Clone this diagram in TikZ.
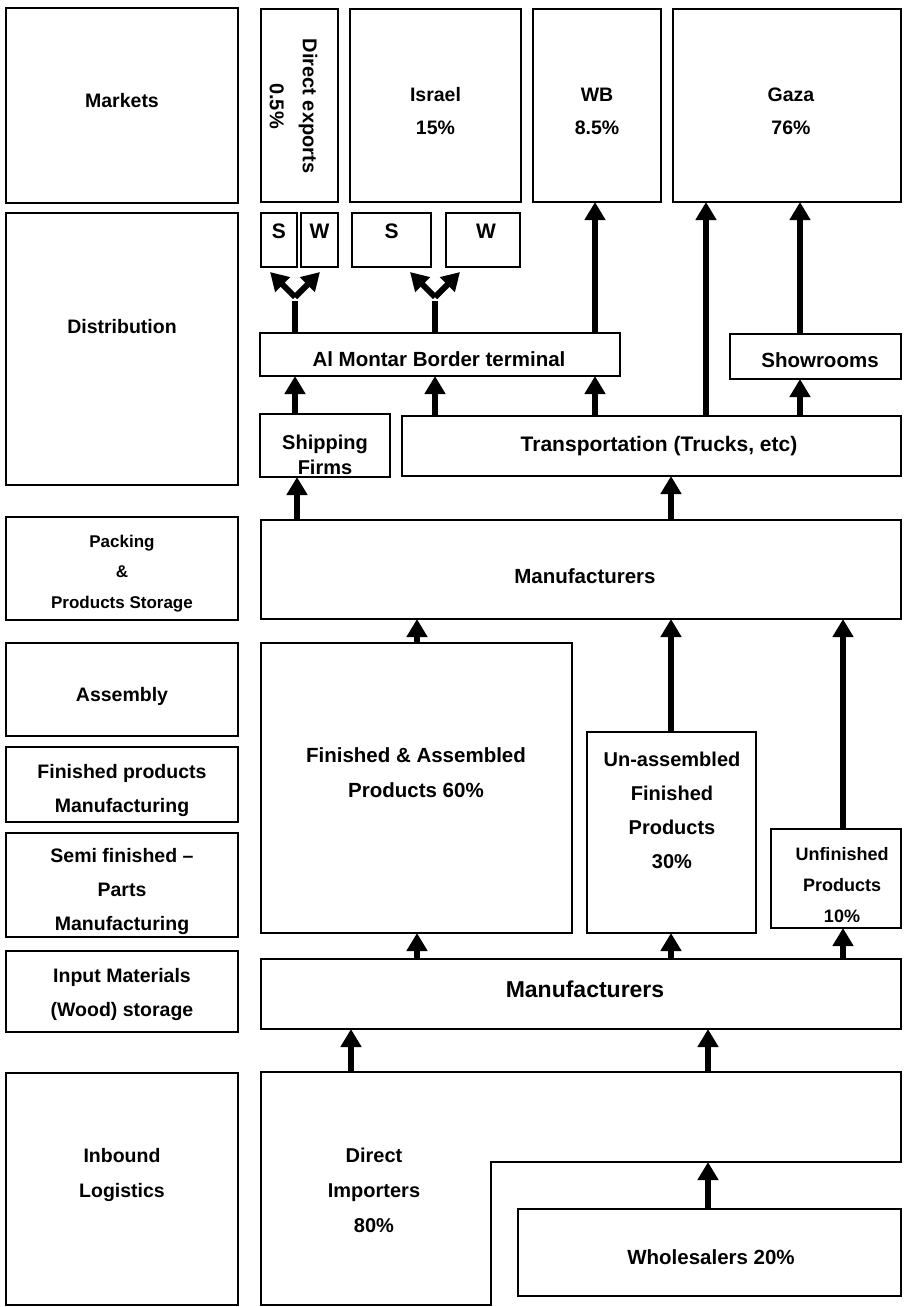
\documentclass[tikz,border=0pt]{standalone}
\usepackage{fontspec}
\setmainfont{Liberation Sans}
\usetikzlibrary{arrows.meta}
\begin{document}
\begin{tikzpicture}[x=1pt,y=-1pt]
\tikzset{
  fz/.style 2 args={font=\bfseries\fontsize{#1}{#2}\selectfont},
  box/.style={draw, line width=1.6pt, inner sep=0pt, outer sep=0pt, rectangle},
  txt/.style={align=center, inner sep=0pt, fz={19.5}{34}},
  arr/.style={line width=6pt, -{Triangle[width=20pt,length=18pt]}},
  stem/.style={line width=6pt},
}
\useasboundingbox (0,0) rectangle (903,1307);
\fill[white] (0,0) rectangle (903,1307);

% ---------- left column ----------
\node[box, minimum width=232pt, minimum height=195pt] (markets) at (122,105.5) {};
\node[txt] (marketsT) at (122,101) {Markets};
\node[box, minimum width=232pt, minimum height=272pt] (dist) at (122,349) {};
\node[txt] (distT) at (122,327) {Distribution};
\node[box, minimum width=232pt, minimum height=103pt] (pack) at (122,568.5) {};
\node[txt, fz={17}{30.5}] (packT) at (122,573.5) {Packing\\\&\\Products Storage};
\node[box, minimum width=232pt, minimum height=93pt] (assem) at (122,689.5) {};
\node[txt] (assemT) at (122,696) {Assembly};
\node[box, minimum width=232pt, minimum height=75pt] (finprod) at (122,784.5) {};
\node[txt] (finprodT) at (122,790) {Finished products\\Manufacturing};
\node[box, minimum width=232pt, minimum height=104pt] (semi) at (122,885) {};
\node[txt] (semiT) at (122,891) {Semi finished --\\Parts\\Manufacturing};
\node[box, minimum width=232pt, minimum height=81pt] (inmat) at (122,991.5) {};
\node[txt] (inmatT) at (122,994) {Input Materials\\(Wood) storage};
\node[box, minimum width=232pt, minimum height=232pt] (inb) at (122,1189) {};
\node[txt, fz={19.5}{35}] (inbT) at (122,1174.5) {Inbound\\Logistics};

% ---------- markets ----------
\node[box, minimum width=77pt, minimum height=193pt] (dexp) at (299.5,105.5) {};
\node[txt, fz={20}{33}, rotate=-90] (dexpT) at (293.5,106) {Direct exports\\0.5\%};
\node[box, minimum width=171pt, minimum height=193pt] (israel) at (435.5,105.5) {};
\node[txt, fz={19.5}{33}] (israelT) at (435.5,111) {Israel\\15\%};
\node[box, minimum width=128pt, minimum height=193pt] (wb) at (597,105.5) {};
\node[txt, fz={19.5}{33}] (wbT) at (597,111) {WB\\8.5\%};
\node[box, minimum width=228pt, minimum height=193pt] (gaza) at (787,105.5) {};
\node[txt, fz={19.5}{33}] (gazaT) at (791,111) {Gaza\\76\%};

% ---------- distribution ----------
\node[box, minimum width=36pt, minimum height=54pt] (s1) at (279,240) {};
\node[txt, fz={21}{25}] (s1T) at (279,231) {S};
\node[box, minimum width=37pt, minimum height=54pt] (w1) at (319.5,240) {};
\node[txt, fz={21}{25}] (w1T) at (319.5,231) {W};
\node[box, minimum width=79pt, minimum height=54pt] (s2) at (391.5,240) {};
\node[txt, fz={21}{25}] (s2T) at (391.5,231) {S};
\node[box, minimum width=74pt, minimum height=54pt] (w2) at (483,240) {};
\node[txt, fz={21}{25}] (w2T) at (486,231) {W};

\node[box, minimum width=360pt, minimum height=43pt] (montar) at (440,354.5) {};
\node[txt, fz={20.5}{25}] (montarT) at (439,359) {Al Montar Border terminal};
\node[box, minimum width=171pt, minimum height=45pt] (show) at (815.5,356.5) {};
\node[txt, fz={20.5}{25}] (showT) at (820,360) {Showrooms};
\node[box, minimum width=130pt, minimum height=63pt] (ship) at (325,445.5) {};
\node[txt, fz={20}{25}] (shipT) at (325,455) {Shipping\\Firms};
\node[box, minimum width=499pt, minimum height=60pt] (trans) at (651.5,446) {};
\node[txt, fz={21}{25}] (transT) at (659,446) {Transportation (Trucks, etc)};

% ---------- manufacturing ----------
\node[box, minimum width=640pt, minimum height=99pt] (man1) at (581,569.5) {};
\node[txt, fz={20.5}{25}] (man1T) at (585,576) {Manufacturers};
\node[box, minimum width=311pt, minimum height=290pt] (fa) at (416.5,788) {};
\node[txt, fz={20.5}{35}] (faT) at (416,773) {Finished \& Assembled\\Products 60\%};
\node[box, minimum width=169pt, minimum height=201pt] (ua) at (671.5,832.5) {};
\node[txt, fz={20}{34}] (uaT) at (672,810) {Un-assembled\\Finished\\Products\\30\%};
\node[box, minimum width=130pt, minimum height=99pt] (uf) at (836,878.5) {};
\node[txt, fz={18}{31}] (ufT) at (842,885) {Unfinished\\Products\\10\%};
\node[box, minimum width=640pt, minimum height=70pt] (man2) at (581,994) {};
\node[txt, fz={23}{28}] (man2T) at (585,989) {Manufacturers};

% ---------- inbound ----------
\coordinate (imp1) at (261,1072);
\coordinate (imp2) at (901,1072);
\coordinate (imp3) at (901,1162);
\coordinate (imp4) at (491,1162);
\coordinate (imp5) at (491,1305);
\coordinate (imp6) at (261,1305);
\draw[line width=1.6pt] (imp1) -- (imp2) -- (imp3) -- (imp4) -- (imp5) -- (imp6) -- cycle;
\node[txt, fz={20}{35}] (impT) at (374,1190) {Direct\\Importers\\80\%};
\node[box, minimum width=383pt, minimum height=87pt] (whole) at (709.5,1252.5) {};
\node[txt, fz={20.5}{25}] (wholeT) at (711,1257) {Wholesalers 20\%};

% ---------- arrow x positions ----------
\coordinate (x295) at (295,0);
\coordinate (x297) at (297,0);
\coordinate (x351) at (351,0);
\coordinate (x417) at (417,0);
\coordinate (x435) at (435,0);
\coordinate (x595) at (595,0);
\coordinate (x671) at (671,0);
\coordinate (x706) at (706,0);
\coordinate (x708) at (708,0);
\coordinate (x800) at (800,0);
\coordinate (x843) at (843,0);

% ---------- arrows ----------
\draw[arr] (imp1 -| x351) -- (man2.south -| x351);
\draw[arr] (imp1 -| x708) -- (man2.south -| x708);
\draw[arr] (whole.north -| x708) -- (imp4 -| x708);

\draw[arr] (man2.north -| x417) -- (fa.south -| x417);
\draw[arr] (man2.north -| x671) -- (ua.south -| x671);
\draw[arr] (man2.north -| x843) -- (uf.south -| x843);

\draw[arr] (fa.north -| x417) -- (man1.south -| x417);
\draw[arr] (ua.north -| x671) -- (man1.south -| x671);
\draw[arr] (uf.north -| x843) -- (man1.south -| x843);

\draw[arr] (man1.north -| x297) -- (ship.south -| x297);
\draw[arr] (man1.north -| x671) -- (trans.south -| x671);

\draw[arr] (ship.north -| x295) -- (montar.south -| x295);
\draw[arr] (trans.north -| x435) -- (montar.south -| x435);
\draw[arr] (trans.north -| x595) -- (montar.south -| x595);
\draw[arr] (trans.north -| x800) -- (show.south -| x800);
\draw[arr] (trans.north -| x706) -- (gaza.south -| x706);
\draw[arr] (show.north -| x800) -- (gaza.south -| x800);
\draw[arr] (montar.north -| x595) -- (wb.south -| x595);

% forks
\coordinate (fk1) at (295,299);
\coordinate (fk1l) at (270,272);
\coordinate (fk1r) at (320,272);
\coordinate (fk2) at (435,299);
\coordinate (fk2l) at (410,272);
\coordinate (fk2r) at (460,272);
\draw[stem] (montar.north -| fk1) -- ([yshift=-2pt]fk1);
\draw[arr] ([yshift=2pt]fk1) -- (fk1l);
\draw[arr] ([yshift=2pt]fk1) -- (fk1r);
\draw[stem] (montar.north -| fk2) -- ([yshift=-2pt]fk2);
\draw[arr] ([yshift=2pt]fk2) -- (fk2l);
\draw[arr] ([yshift=2pt]fk2) -- (fk2r);
\end{tikzpicture}
\end{document}
